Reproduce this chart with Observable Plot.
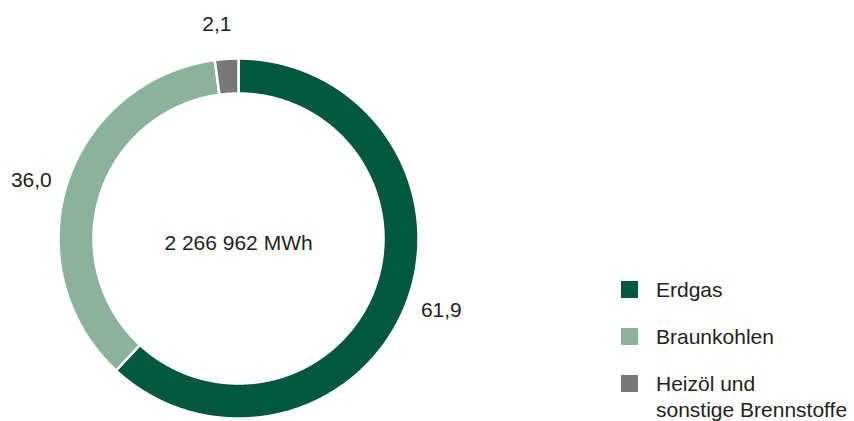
<!DOCTYPE html>
<html>
<head>
<meta charset="utf-8">
<script src="https://cdn.jsdelivr.net/npm/d3@7"></script>
<script src="https://cdn.jsdelivr.net/npm/@observablehq/plot@0.6"></script>
<style>
  html, body { margin: 0; padding: 0; background: #fff; }
  #wrap { position: relative; width: 854px; height: 421px; font-family: "Liberation Sans", Arial, sans-serif; color: #231f20; }
  #legend { position: absolute; left: 621px; top: 0; }
  .item { position: absolute; left: 0; width: 230px; font-size: 21px; line-height: 26px; }
  .sw { position: absolute; left: 0; top: 4px; width: 17px; height: 17px; }
  .lab { position: absolute; left: 35px; top: 0; white-space: nowrap; }
</style>
</head>
<body>
<div id="wrap"><div id="chart"></div><div id="legend"></div></div>
<script>
const categories = ["Erdgas", "Braunkohlen", "Heizöl und\nsonstige Brennstoffe"];
const shares = [61.9, 36.0, 2.1];
const valueLabels = ["61,9", "36,0", "2,1"];
const colors = ["#00583f", "#8bb39c", "#76787a"];
const totalLabel = "2 266 962 MWh";

const OUTER = 1, INNER = 145 / 180, LABEL_R = 1.195, LABEL_ROT = -2 * Math.PI / 180;

const pie = d3.pie().sort(null).value(d => d.share)
  (categories.map((name, i) => ({name, share: shares[i], label: valueLabels[i], color: colors[i]})));

// polygon points for each ring segment (angles clockwise from top)
const ringPts = [];
for (const p of pie) {
  const n = Math.max(4, Math.ceil((p.endAngle - p.startAngle) / 0.005));
  const pts = [];
  for (let k = 0; k <= n; k++) {
    const a = p.startAngle + (p.endAngle - p.startAngle) * k / n;
    pts.push({x: OUTER * Math.sin(a), y: OUTER * Math.cos(a)});
  }
  for (let k = n; k >= 0; k--) {
    const a = p.startAngle + (p.endAngle - p.startAngle) * k / n;
    pts.push({x: INNER * Math.sin(a), y: INNER * Math.cos(a)});
  }
  pts.push(pts[0]);
  for (const q of pts) ringPts.push({...q, name: p.data.name, color: p.data.color});
}

const labels = pie.map(p => {
  const a = (p.startAngle + p.endAngle) / 2 + LABEL_ROT;
  return {x: LABEL_R * Math.sin(a), y: LABEL_R * Math.cos(a), text: p.data.label};
});

const chart = Plot.plot({
  width: 854,
  height: 421,
  margin: 0,
  x: {domain: [-1, 1], range: [58, 418], axis: null},
  y: {domain: [-1, 1], range: [418, 58], axis: null},
  style: {fontFamily: '"Liberation Sans", Arial, sans-serif', background: "#fff"},
  marks: [
    Plot.line(ringPts, {x: "x", y: "y", z: "name", fill: "color", stroke: "#ffffff", strokeWidth: 2.5, curve: "linear", strokeLinejoin: "miter"}),
    Plot.text(labels, {x: "x", y: "y", text: "text", fontSize: 21, fill: "#231f20"}),
    Plot.text([totalLabel], {x: 0, y: 0, text: d => d, fontSize: 21, fill: "#231f20", dy: 5})
  ]
});
document.getElementById("chart").appendChild(chart);

const legend = document.getElementById("legend");
categories.forEach((c, i) => {
  const it = document.createElement("div");
  it.className = "item";
  it.style.top = (277 + i * 47) + "px";
  const sw = document.createElement("div");
  sw.className = "sw";
  sw.style.background = colors[i];
  const lab = document.createElement("div");
  lab.className = "lab";
  lab.innerHTML = c.split("\n").join("<br>");
  it.appendChild(sw);
  it.appendChild(lab);
  legend.appendChild(it);
});
</script>
</body>
</html>
